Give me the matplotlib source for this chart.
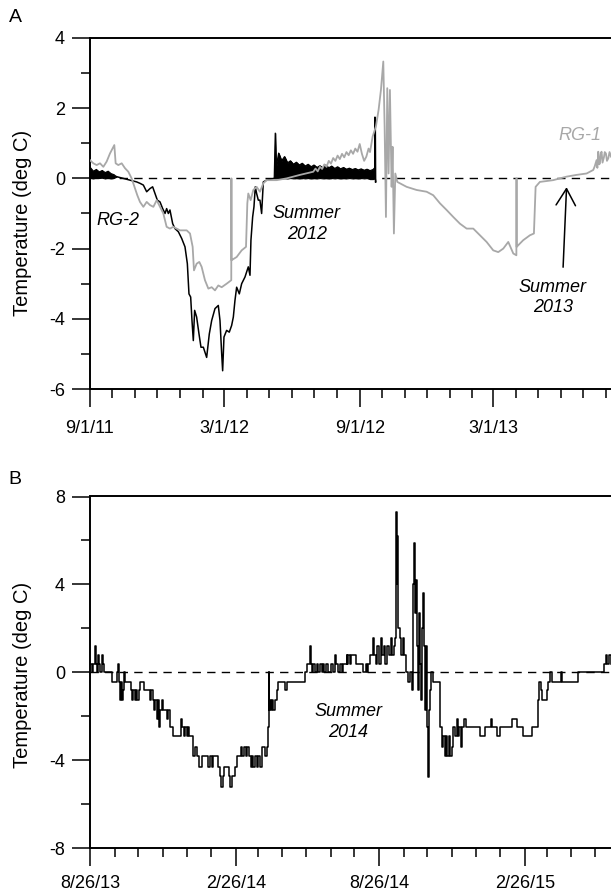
import numpy as np
import matplotlib
matplotlib.use('Agg')
import matplotlib.pyplot as plt
import matplotlib.dates as mdates
from matplotlib.ticker import FixedLocator
from datetime import datetime

plt.rcParams['font.family'] = ['Liberation Sans', 'DejaVu Sans']
plt.rcParams['axes.unicode_minus'] = False

GRAY = '#a8a8a8'

# ---- panel A: days since 9/1/11 ----
start_a = datetime(2011, 9, 1)
end_day_a = 707

rg1_days = [0, 4.5, 9, 13.6, 18.1, 22.6, 27.1, 30.8, 33, 34.8, 38.4, 43, 47.5, 52, 56.5,
            61.1, 64.2, 67.8, 72.4, 76.9, 81.4, 86, 90.5, 95, 99.5, 104, 108.5, 113, 122.1,
            131.2, 135.7, 139.3, 141.1, 144.7, 148.3, 151.5, 156, 160.6, 165.1, 169.6, 174.1,
            178.7, 185.4, 191.7, 191.9, 192.1, 199, 205.8, 211.7, 213.5, 214.8, 218, 221.6,
            226.1, 230.6, 235.2, 239.7, 253.3, 266.8, 284.9, 303, 306, 309, 312, 315, 318,
            321, 324, 327, 330, 333, 336, 339, 342, 345, 348, 351, 354, 357, 360, 363, 366,
            369, 372, 375, 378, 380, 383.5, 388, 391.6, 394.8, 398, 399.8, 401.6, 403.4,
            405.2, 407, 409.3, 410.6, 412.4, 414.3, 417, 420.6, 429.6, 443.2, 456.8, 465.8,
            474.9, 483.9, 493, 502, 511.1, 520.1, 529.1, 538.2, 547.2, 554, 560.8, 567.6,
            574.4, 578.6, 578.8, 579.0, 587.9, 597, 602.4, 604.7, 610.5, 628.6, 646.7, 660.3,
            673.9, 682.9, 685, 687.4, 688.5, 689.7, 691, 692, 693, 694.2, 695.5, 697.4, 698.5,
            700.1, 701.5, 703.3, 705, 707]
rg1_temp = [0.52, 0.43, 0.38, 0.43, 0.33, 0.48, 0.71, 0.86, 0.95, 0.43, 0.38, 0.43, 0.29, 0.19, 0,
            -0.29, -0.48, -0.67, -0.81, -0.67, -0.76, -0.81, -0.62, -0.81, -1.0, -1.38, -1.43, -1.38, -1.48,
            -1.48, -1.57, -1.95, -2.62, -2.43, -2.38, -2.52, -2.9, -3.14, -3.1, -3.19, -3.05,
            -3.1, -3.0, -2.9, 0, -2.33, -2.24, -2.05, -1.95, -0.71, -0.43, -0.62, -0.33,
            -0.24, -0.38, -0.14, -0.05, -0.05, 0, 0.1, 0.19, 0.28, 0.2, 0.33, 0.27, 0.4,
            0.33, 0.5, 0.42, 0.58, 0.5, 0.65, 0.55, 0.7, 0.6, 0.75, 0.66, 0.8, 0.7, 0.85, 0.76, 0.98,
            0.7, 0.5, 0.62, 0.85, 0.75, 1.19, 1.48, 1.95, 2.52, 3.33, 1.48, -1.1, 2.57,
            0.14, 2.52, -0.24, 0.9, -1.57, 0.14, -0.1, -0.14, -0.24, -0.33, -0.38, -0.48,
            -0.71, -0.9, -1.1, -1.29, -1.43, -1.43, -1.62, -1.81, -2.05, -2.1, -2.0, -1.81,
            -2.14, -2.19, 0, -1.95, -1.76, -1.62, -1.57, -0.24, -0.1, -0.05, 0.05, 0.1,
            0.14, 0.24, 0.35, 0.52, 0.3, 0.76, 0.4, 0.43, 0.7, 0.76, 0.45, 0.6, 0.75,
            0.71, 0.5, 0.57, 0.75, 0.62]

# RG-2 fall 2011: daily swing, lower and upper envelope
rg2_fall_days = [0, 4, 8, 12, 16, 20, 24, 28, 32, 36]
rg2_fall_lo = [0.02, 0.0, 0.02, 0.01, 0.02, 0.0, 0.02, 0.0, 0.01, 0.05]
rg2_fall_hi = [0.32, 0.22, 0.27, 0.2, 0.24, 0.18, 0.22, 0.15, 0.12, 0.05]
# RG-2 winter 2011-12
rg2_winter_days = [36, 45.2, 54.3, 63.3, 67.8, 72.4, 76.9, 81.4, 85, 88.2, 91.4, 95, 98.6,
                   101.8, 104, 106.3, 108.5, 112.2, 115.3, 119.9, 124.4, 128.9, 132.1, 134.3,
                   136.6, 138.4, 140.2, 142, 144.7, 147.9, 150.6, 153.8, 158.3, 161.9, 165.1,
                   169.6, 174.1, 176.4, 178.7, 180, 181.8, 185.4, 189, 192.2, 194.5, 196.7, 199,
                   202.6, 205.8, 210.3, 214.8, 217.1, 218.4, 220.7, 222.5, 224.3, 226.1, 228.4,
                   230.6, 232.9, 235.2, 239.7, 250]
rg2_winter_temp = [0.05, 0, -0.05, -0.1, -0.14, -0.19, -0.38, -0.29, -0.24, -0.43, -0.62, -0.67, -0.86,
                   -1.0, -0.86, -1.0, -0.9, -1.29, -1.43, -1.52, -1.71, -1.95, -2.43, -3.29,
                   -3.38, -4.05, -4.62, -3.76, -3.95, -4.43, -4.81, -4.81, -5.1, -4.43, -4.05,
                   -3.71, -3.62, -4.05, -5.0, -5.48, -4.52, -4.33, -4.38, -4.19, -3.95, -3.48, -3.1,
                   -3.29, -3.0, -2.81, -2.52, -2.76, -1.76, -1.1, -0.81, -0.24, -0.43, -0.62,
                   -0.62, -1.0, -0.1, -0.05, 0]
# RG-2 summer 2012: daily swing, lower and upper envelope
rg2_summer_days = [250, 251.4, 252.5, 256, 260, 264, 268, 272, 276, 280, 284, 288, 292, 296,
                   300, 304, 308, 312, 316, 320, 324, 328, 332, 336, 340, 344, 348, 352, 356,
                   360, 364, 368, 372, 376, 380, 384, 386.3, 386.7, 387.2]
rg2_summer_lo = [0, 0, 0, 0.01, 0, 0.01, 0, 0.01, 0, 0.01, 0, 0.01, 0, 0.01,
                 0, 0.01, 0, 0.01, 0, 0.01, 0, 0.01, 0, 0.01, 0, 0.01, 0, 0.01, 0,
                 0.01, 0, 0.01, 0, 0.01, -0.02, -0.02, 0, 0, -0.1]
rg2_summer_hi = [0, 1.29, 0.3, 0.72, 0.5, 0.62, 0.44, 0.5, 0.4, 0.46, 0.38, 0.43, 0.35, 0.4,
                 0.33, 0.38, 0.31, 0.36, 0.3, 0.38, 0.3, 0.35, 0.28, 0.33, 0.27, 0.31, 0.26, 0.29,
                 0.25, 0.28, 0.24, 0.27, 0.23, 0.26, 0.22, 0.25, 0.3, 1.75, -0.1]

# ---- panel B: days since 8/26/13 (step record) ----
start_b = datetime(2013, 8, 26)
end_day_b = 658
b_days = [0, 2.1, 4.2, 6.3, 7.6, 9.3, 10.5, 11.8, 13, 14.7, 16, 17.7, 27.4, 33.7, 35.8, 37,
          37.9, 39.6, 40.8, 42.1, 43.4, 44.6, 51.8, 53, 54.7, 56.4, 58, 59.8, 61.4, 63.1, 68.2,
          75.8, 77.4, 79.1, 80.8, 82.5, 84.2, 85.9, 87.5, 88.8, 90.9, 92.6, 96.8, 98.9, 101,
          104.4, 115.3, 116.6, 118.7, 120.4, 122, 123.7, 125.4, 130.5, 133, 134.7, 138, 141,
          149.4, 151.5, 153.6, 155.7, 162, 164.1, 165, 167.5, 169.2, 175.9, 176.8, 179.7,
          183.1, 186, 190.2, 192.3, 194.4, 196.5, 198.7, 201.2, 202.9, 204.5, 206.2, 208.3,
          210.4, 212.5, 214.6, 216.8, 221, 223, 224.3, 225.6, 226, 227.3, 228.5, 230.2, 231.5,
          233.6, 235.7, 237.8, 246.2, 248.3, 271.5, 273.6, 277.8, 279, 280.5, 282, 284, 286.2,
          288.3, 290.5, 292.6, 294.5, 296, 298, 301, 304, 307.3, 309.4, 310.7, 313.6, 315.7,
          317.8, 320, 324.1, 325, 326.2, 328.3, 330, 335.9, 345.2, 349, 350, 351.5, 353.6, 357,
          358.6, 361.2, 362.8, 365.4, 367.1, 368.7, 371.3, 373, 374.6, 377.2, 379.7, 381.4,
          383.9, 385.6, 386.4, 387.3, 388, 389.3, 391.5, 393.1, 394.8, 396.5, 399, 402, 404.1,
          406.6, 408.3, 409.1, 410.4, 411.7, 412.9, 413.8, 415, 416.3, 417.6, 419.2, 420.5,
          421.8, 423, 424.3, 425.6, 426.8, 428.1, 429.3, 431, 433.6, 442, 444.1, 446.2, 448.3,
          449.5, 451.2, 452.9, 454.6, 456.7, 458.8, 460.9, 463, 464.7, 466.4, 468.1, 470.2,
          472.3, 474.4, 492.5, 498.8, 506, 507.6, 513.5, 517.7, 532.5, 538.8, 546.3, 557.7,
          565.3, 567.4, 569.1, 571.2, 576.6, 578.8, 580.9, 583.4, 594.3, 596.4, 616.6, 649,
          651.6, 653.3, 655, 658]
b_temp = [0.4, 0, 0.4, 1.2, 0.4, 0, 0.8, 0.4, 0, 0.8, 0.4, 0, -0.45, 0, 0.4, -0.45,
          -1.25, -0.45, -1.25, -0.8, 0, -0.45, -0.8, -1.25, -0.8, -1.25, -0.8, -1.25, -0.8, -0.45, -0.8,
          -1.25, -0.8, -1.25, -1.7, -1.25, -2.1, -1.25, -2.5, -1.7, -1.25, -1.7, -2.1, -1.7, -2.5,
          -2.9, -2.1, -2.5, -2.9, -2.5, -2.9, -2.5, -2.9, -3.8, -3.4, -3.8, -4.3, -3.8,
          -4.3, -3.8, -4.3, -3.8, -4.3, -4.7, -5.2, -4.7, -4.3, -4.7, -5.2, -4.7,
          -4.3, -3.8, -3.4, -3.8, -3.4, -3.8, -3.4, -3.8, -4.3, -3.8, -4.3, -3.8,
          -4.3, -3.8, -4.3, -3.4, -3.8, -3.4, -2.5, 0, -1.7, -1.25, -1.7, -1.25, -1.7,
          -1.25, -0.8, -0.45, -0.8, -0.45, 0, 0.4, 1.2, 0.4, 0, 0.4, 0, 0.4,
          0, 0.4, 0, 0.4, 0, 0.4, 0, 0.4, 0, 0.8, 0.4, 0, 0.4,
          0, 0.4, 0.8, 0.4, 0.8, 0.4, 0.8, 0.4, 0, 0.4, 0, 0.4, 0.8, 1.55,
          0.8, 0.4, 1.2, 0.4, 1.55, 0.8, 1.2, 0.4, 1.2, 0.8, 1.55, 0.8,
          1.2, 1.55, 7.3, 4.0, 6.2, 2.0, 1.55, 0.8, 1.55, 0.8, 0, -0.45, 0,
          -0.8, 4.0, 5.9, 2.7, 4.2, 1.2, -0.8, 2.7, 0.4, -1.25, 2.0, 3.6,
          1.2, -1.7, 1.2, -2.5, -4.75, -1.7, -0.8, 0, -0.45, -2.5, -3.4, -2.9, -3.8,
          -2.9, -3.8, -2.9, -3.8, -3.4, -2.5, -2.9, -2.1, -2.9, -2.5, -3.4, -2.5,
          -2.1, -2.5, -2.9, -2.5, -2.1, -2.5, -2.9, -2.5, -2.1, -2.5, -2.9, -2.5,
          -1.25, -0.45, -0.8, -1.25, -0.8, -0.45, 0, -0.45, 0, -0.45, 0, 0.4,
          0.8, 0.4, 0.8, 0.4]

a_major = [datetime(2011, 9, 1), datetime(2012, 3, 1), datetime(2012, 9, 1), datetime(2013, 3, 1)]
a_labels = ['9/1/11', '3/1/12', '9/1/12', '3/1/13']
b_major = [datetime(2013, 8, 26), datetime(2014, 2, 26), datetime(2014, 8, 26), datetime(2015, 2, 26)]
b_labels = ['8/26/13', '2/26/14', '8/26/14', '2/26/15']

fig = plt.figure(figsize=(6.11, 8.94), dpi=100)
W, H = 611, 894
axA = fig.add_axes([90 / W, 1 - 389 / H, 521 / W, 351 / H])
axB = fig.add_axes([90 / W, 1 - 848.3 / H, 521 / W, 351.8 / H])

t0a = mdates.date2num(start_a)
t0b = mdates.date2num(start_b)


def style_axes(ax, t0, end_day, majors, labels, yticks, yminor, bymonthday, ylab_y, xpad):
    ax.set_xlim(t0, t0 + end_day)
    ax.axhline(0, color='k', lw=1.0, dashes=(6, 4.5), zorder=1)
    ax.xaxis.set_major_locator(FixedLocator(mdates.date2num(majors)))
    ax.set_xticklabels(labels)
    ax.xaxis.set_minor_locator(mdates.MonthLocator(bymonthday=bymonthday))
    ax.set_yticks(yticks)
    ax.set_yticks(yminor, minor=True)
    ax.set_ylim(yticks[0], yticks[-1])
    ax.spines['right'].set_visible(False)
    for s in ['left', 'top', 'bottom']:
        ax.spines[s].set_linewidth(1.4)
    ax.tick_params(which='major', length=13, width=1.1, labelsize=13)
    ax.tick_params(which='minor', length=6.5, width=1.1)
    ax.tick_params(axis='y', pad=5)
    ax.tick_params(axis='x', pad=xpad)
    ax.set_ylabel('Temperature (deg C)', fontsize=14.5)
    ax.yaxis.set_label_coords(-0.111, ylab_y)


# panel A
xf = t0a + np.array(rg2_fall_days)
axA.fill_between(xf, rg2_fall_lo, rg2_fall_hi, color='k', lw=0.8, zorder=2)
axA.plot(t0a + np.array(rg2_winter_days), rg2_winter_temp, color='k', lw=1.1, zorder=2)
xs = t0a + np.array(rg2_summer_days)
axA.fill_between(xs, rg2_summer_lo, rg2_summer_hi, color='k', lw=0.8, zorder=2)
axA.plot(xs, rg2_summer_hi, color='k', lw=0.9, zorder=2)
axA.plot(t0a + np.array(rg1_days), rg1_temp, color=GRAY, lw=1.3, zorder=3)
style_axes(axA, t0a, end_day_a, a_major, a_labels, [-6, -4, -2, 0, 2, 4], [-5, -3, -1, 1, 3], 1,
           0.473, 9)

axA.text(t0a + 9, -1.2, 'RG-2', style='italic', fontsize=13, ha='left', va='center')
axA.text(t0a + 294, -1.3, 'Summer\n2012', style='italic', fontsize=13, ha='center', va='center',
         linespacing=1.25)
axA.text(t0a + 665, 1.23, 'RG-1', style='italic', fontsize=13, ha='center', va='center', color=GRAY)
axA.text(t0a + 628, -3.4, 'Summer\n2013', style='italic', fontsize=13, ha='center', va='center',
         linespacing=1.25)
axA.annotate('', xy=(t0a + 646.7, -0.25), xytext=(t0a + 642, -2.53),
             arrowprops=dict(arrowstyle='->,head_length=1.2,head_width=0.7', mutation_scale=10,
                             color='k', lw=1.1, shrinkA=0, shrinkB=0))

# panel B
axB.step(t0b + np.array(b_days), b_temp, where='post', color='k', lw=1.1, zorder=2)
style_axes(axB, t0b, end_day_b, b_major, b_labels, [-8, -4, 0, 4, 8], [-6, -2, 2, 6], 26,
           0.494, 6)
axB.text(t0b + 326, -2.26, 'Summer\n2014', style='italic', fontsize=13, ha='center', va='center',
         linespacing=1.25)

fig.text(15 / W, 1 - 17 / H, 'A', fontsize=14, ha='center', va='center')
fig.text(15 / W, 1 - 479 / H, 'B', fontsize=14, ha='center', va='center')

fig.savefig('out.png', dpi=100)
